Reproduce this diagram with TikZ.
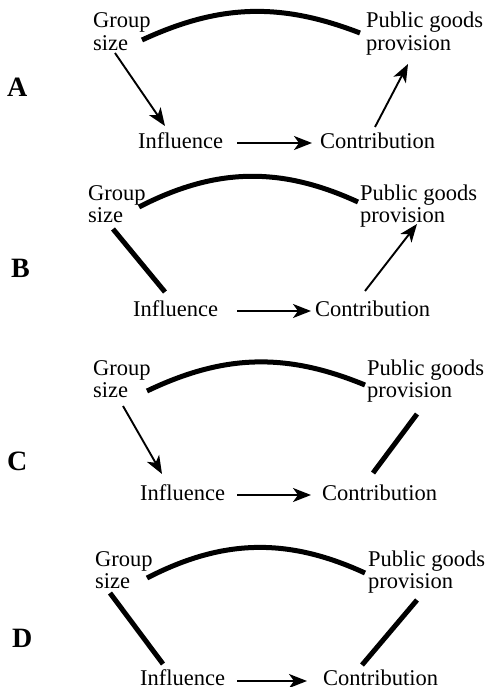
\documentclass[tikz,border=0pt]{standalone}
\usepackage{fontspec}
\setmainfont{Liberation Serif}
\usetikzlibrary{arrows.meta}
\begin{document}
\begin{tikzpicture}[x=1pt,y=-1pt,
  lbl/.style={inner sep=0pt, anchor=base west, font=\fontsize{22.5}{22.5}\selectfont, align=left},
  panel/.style={inner sep=0pt, anchor=base west, font=\fontsize{28}{28}\selectfont\bfseries},
  arr/.style={line width=1.9pt, -{Stealth[length=18pt,width=14pt,inset=5pt]}},
  heavy/.style={line width=5pt},
  ]
\useasboundingbox (0,0) rectangle (485,687);

% ---------- Panel A ----------
\node[panel] (pA) at (7,97) {A};
\node[lbl] (gA) at (93,50.5) {Group\\size};
\node[lbl] (pgA) at (366,50.5) {Public goods\\provision};
\node[lbl] (iA) at (138,149) {Influence};
\node[lbl] (cA) at (320,149) {Contribution};
\coordinate (gA1) at (142,40);
\coordinate (pgA1) at (360,33);
\coordinate (gA2) at (115,53);
\coordinate (iA1) at (165,126);
\coordinate (iA2) at (237,143);
\coordinate (cA1) at (312,143);
\coordinate (cA2) at (375,127);
\coordinate (pgA2) at (408,64);
\draw[heavy] (gA1) to[bend left=23] (pgA1);
\draw[arr] (gA2) -- (iA1);
\draw[arr] (iA2) -- (cA1);
\draw[arr] (cA2) -- (pgA2);

% ---------- Panel B ----------
\node[panel] (pB) at (11,277) {B};
\node[lbl] (gB) at (88,222.5) {Group\\size};
\node[lbl] (pgB) at (360,222.5) {Public goods\\provision};
\node[lbl] (iB) at (133,316) {Influence};
\node[lbl] (cB) at (315,316) {Contribution};
\coordinate (gB1) at (139,207);
\coordinate (pgB1) at (358,202);
\coordinate (gB2) at (113,229);
\coordinate (iB1) at (165,292);
\coordinate (iB2) at (237,311);
\coordinate (cB1) at (311,311);
\coordinate (cB2) at (365,291);
\coordinate (pgB2) at (417,224);
\draw[heavy] (gB1) to[bend left=26] (pgB1);
\draw[heavy] (gB2) -- (iB1);
\draw[arr] (iB2) -- (cB1);
\draw[arr] (cB2) -- (pgB2);

% ---------- Panel C ----------
\node[panel] (pC) at (7,470) {C};
\node[lbl] (gC) at (93,397.5) {Group\\size};
\node[lbl] (pgC) at (367,397.5) {Public goods\\provision};
\node[lbl] (iC) at (140,500) {Influence};
\node[lbl] (cC) at (322,500) {Contribution};
\coordinate (gC1) at (147,391);
\coordinate (pgC1) at (365,385);
\coordinate (gC2) at (123,406);
\coordinate (iC1) at (162,474);
\coordinate (iC2) at (237,495);
\coordinate (cC1) at (311,495);
\coordinate (cC2) at (373,473);
\coordinate (pgC2) at (417,414);
\draw[heavy] (gC1) to[bend left=24] (pgC1);
\draw[arr] (gC2) -- (iC1);
\draw[arr] (iC2) -- (cC1);
\draw[heavy] (cC2) -- (pgC2);

% ---------- Panel D ----------
\node[panel] (pD) at (12,647) {D};
\node[lbl] (gD) at (95,588.5) {Group\\size};
\node[lbl] (pgD) at (368,588.5) {Public goods\\provision};
\node[lbl] (iD) at (140,685) {Influence};
\node[lbl] (cD) at (323,685) {Contribution};
\coordinate (gD1) at (147,578);
\coordinate (pgD1) at (365,573);
\coordinate (gD2) at (110,593);
\coordinate (iD1) at (163,664);
\coordinate (iD2) at (237,681);
\coordinate (cD1) at (307,681);
\coordinate (cD2) at (362,665);
\coordinate (pgD2) at (417,600);
\draw[heavy] (gD1) to[bend left=26] (pgD1);
\draw[heavy] (gD2) -- (iD1);
\draw[arr] (iD2) -- (cD1);
\draw[heavy] (cD2) -- (pgD2);
\end{tikzpicture}
\end{document}
